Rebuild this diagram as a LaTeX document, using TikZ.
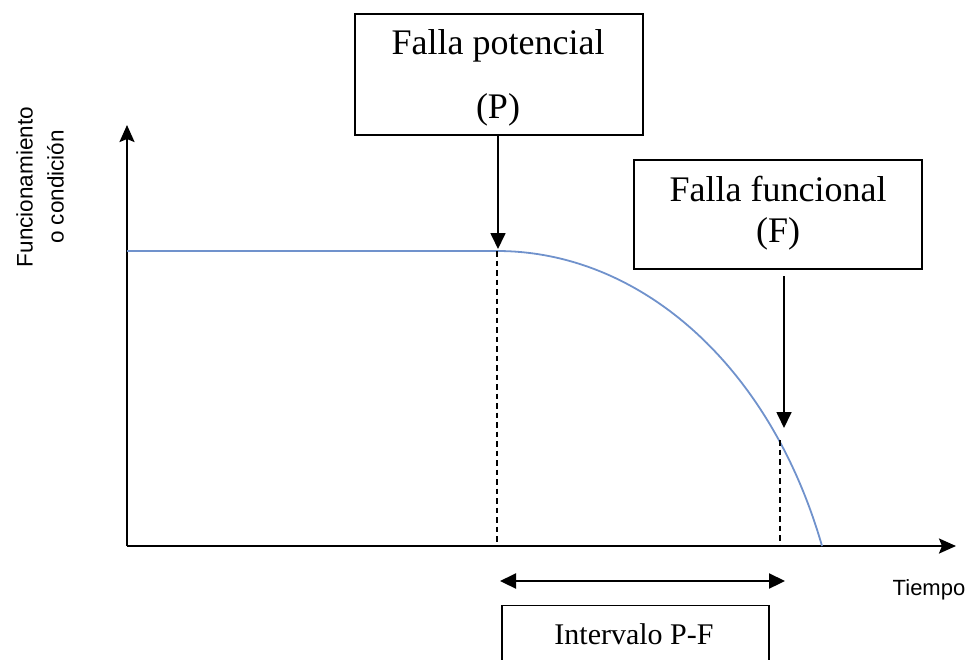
\documentclass[tikz,border=0pt]{standalone}
\usepackage{fontspec}
\setmainfont{Liberation Serif}
\newfontfamily\arialfont{Liberation Sans}
\usetikzlibrary{arrows.meta}
\definecolor{curveblue}{RGB}{112,146,204}
\begin{document}
\begin{tikzpicture}[x=1pt,y=-1pt,
  box/.style={draw=black, line width=1.4pt, inner sep=0pt, align=center},
  axisline/.style={line width=2.2pt, -{Stealth[length=17pt,width=15pt,inset=3pt]}},
  pointer/.style={line width=1.7pt, -{Triangle[length=16pt,width=15pt]}},
  guide/.style={line width=2.2pt, dash pattern=on 5.5pt off 4pt},
  bigtext/.style={font=\fontsize{36}{41}\selectfont},
  sanslabel/.style={font=\arialfont\fontsize{22}{30}\selectfont, align=center}]
\useasboundingbox (0,0) rectangle (976,659);
\clip (0,0) rectangle (976,659);

% axes
\coordinate (origin) at (127,546);
\coordinate (ytip) at (127,125);
\coordinate (xtip) at (956,546);
\draw[axisline] (origin) -- (ytip);
\draw[axisline] (origin) -- (xtip);

\node[sanslabel, rotate=90, font=\arialfont\fontsize{22.5}{31}\selectfont] (ylab) at (40,187) {Funcionamiento\\o condición};
\node[sanslabel] (tiempo) at (929,590) {Tiempo};

% curve
\coordinate (plateau) at (127,251);
\coordinate (pp) at (497,251);
\coordinate (fp) at (780,440);
\coordinate (cend) at (822,546);
\draw[curveblue, line width=1.8pt] (plateau) -- (pp) .. controls (640,251) and (770,365) .. (cend);

% dashed guides
\coordinate (pbase) at (497,546);
\coordinate (fbase) at (780,546);
\draw[guide] (pp) -- (pbase);
\draw[guide] (fp) -- (fbase);

% P box
\node[box, minimum width=288pt, minimum height=121pt] (pbox) at (499,74.5) {};
\node[bigtext] (ptext1) at (498,46) {Falla potencial};
\node[bigtext] (ptext2) at (498,110) {(P)};
\coordinate (ptip) at (498,249);
\draw[pointer] (pbox.south -| ptip) -- (ptip);

% F box
\node[box, minimum width=288pt, minimum height=109pt] (fbox) at (778,214.5) {};
\node[bigtext, align=center] (ftext) at (778,213) {Falla funcional\\(F)};
\coordinate (fstart) at (784,276);
\coordinate (ftip) at (784,428);
\draw[pointer] (fstart) -- (ftip);

% interval
\coordinate (ia) at (500,581);
\coordinate (ib) at (785,581);
\draw[line width=2.2pt, {Triangle[length=16pt,width=15pt]}-{Triangle[length=16pt,width=15pt]}] (ia) -- (ib);
\node[box, minimum width=267pt, minimum height=80pt, anchor=north] (ibox) at (635.5,605) {};
\node[font=\fontsize{30}{36}\selectfont] (itext) at (634,634) {Intervalo P-F};
\end{tikzpicture}
\end{document}
